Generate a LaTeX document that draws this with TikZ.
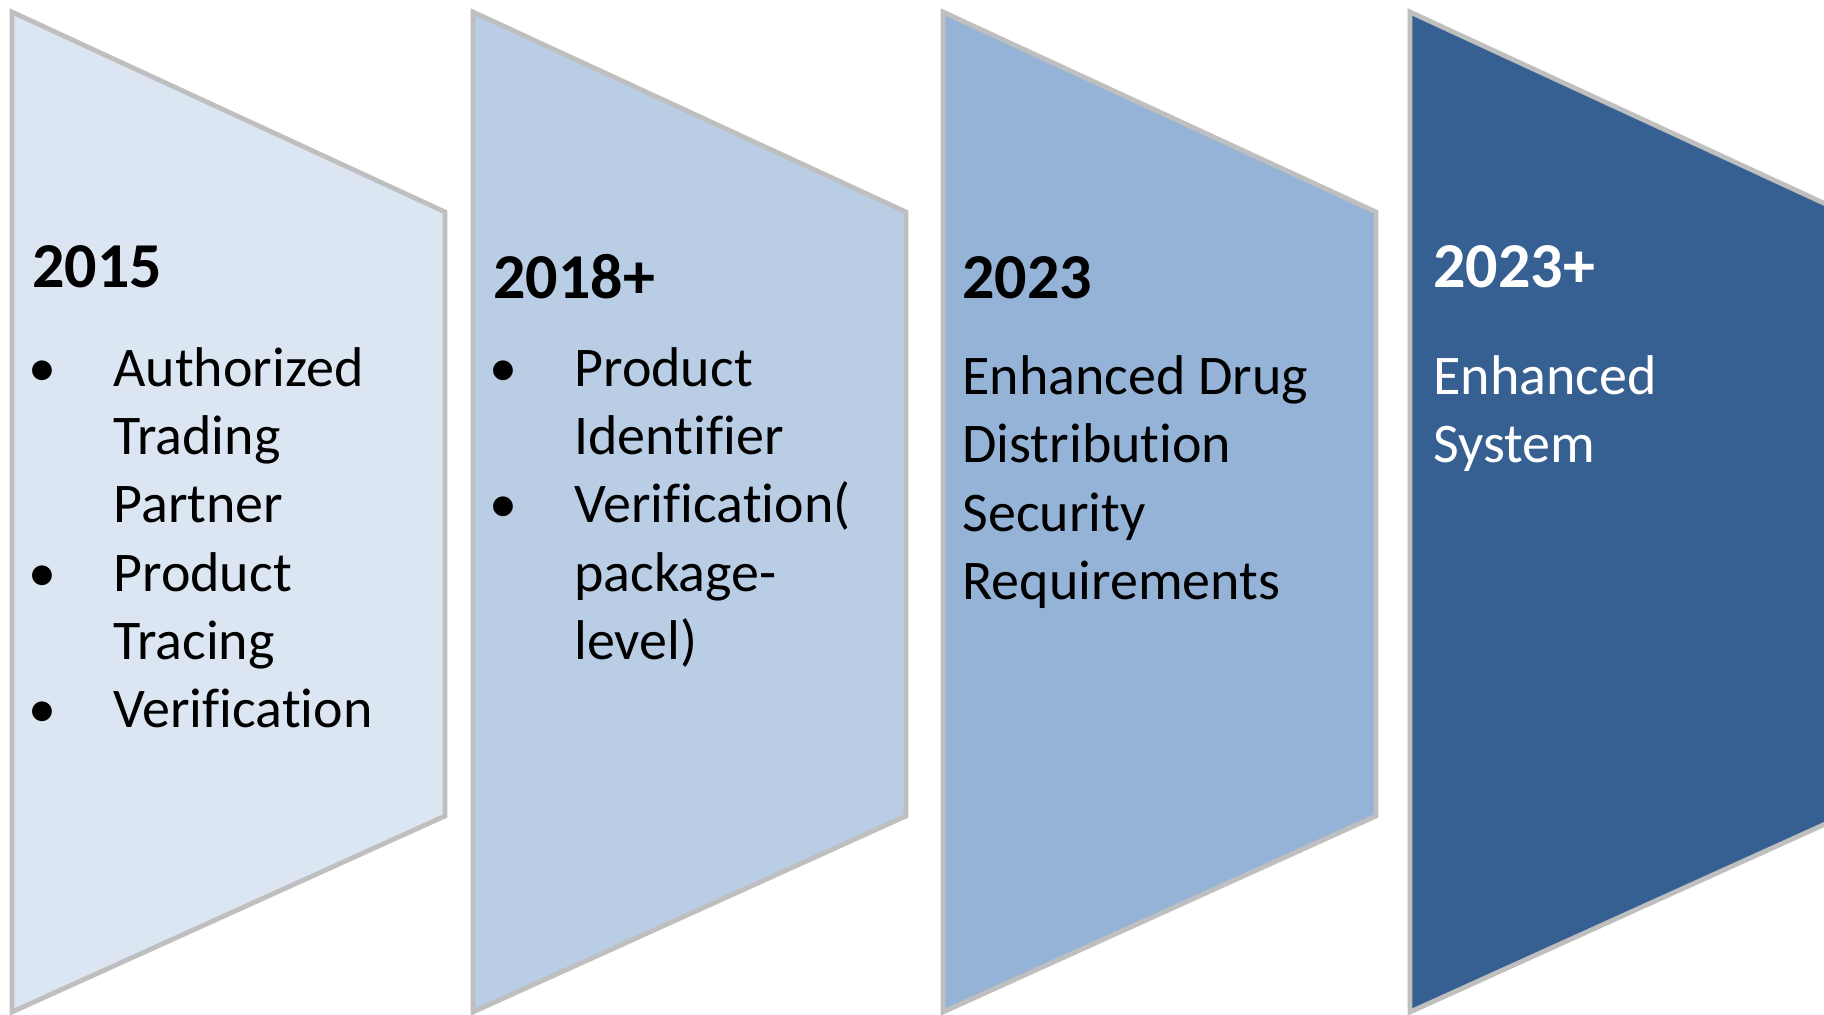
\documentclass[tikz,border=0pt]{standalone}
\usepackage{fontspec}
\setmainfont{Carlito}[Ligatures={NoCommon}]

\definecolor{stageA}{HTML}{DCE6F2}
\definecolor{stageB}{HTML}{B9CDE5}
\definecolor{stageC}{HTML}{95B3D7}
\definecolor{stageD}{HTML}{376092}
\definecolor{stageline}{HTML}{BFBFBF}

\begin{document}
\begin{tikzpicture}[
   x=0.5pt, y=-0.5pt,
   stage/.style={
     fill=#1,
     draw=stageline,
     line width=2.4pt,
    },
   year/.style={
     anchor=base west,
     inner sep=0pt,
     font=\fontsize{32}{38}\selectfont\bfseries,
    },
   txt/.style={
     anchor=base west,
     inner sep=0pt,
     font=\fontsize{28}{34}\selectfont,
    },
   dot/.style={
     anchor=base,
     inner sep=0pt,
     font=\fontsize{28}{34}\selectfont,
    },
  ]

\useasboundingbox (0,0) rectangle (1824,1015);
\clip (0,0) rectangle (1824,1015);

% 2015
\begin{scope}[shift={(12,0)}]
\draw[stage=stageA] (0,12) -- (433,212) -- (433,816) -- (0,1012) -- cycle;
\node[year] (y1) at (20,288) {2015};
\node[dot] (d11) at (30,387) {\textbullet};
\node[txt] (a1) at (101,387) {Authorized};
\node[txt] (a2) at (101,455) {Trading};
\node[txt] (a3) at (101,523) {Partner};
\node[dot] (d12) at (30,591) {\textbullet};
\node[txt] (a4) at (101,591) {Product};
\node[txt] (a5) at (101,659) {Tracing};
\node[dot] (d13) at (30,727) {\textbullet};
\node[txt] (a6) at (101,727) {Verification};
\end{scope}

% 2018+
\begin{scope}[shift={(473,0)}]
\draw[stage=stageB] (0,12) -- (433,212) -- (433,816) -- (0,1012) -- cycle;
\node[year] (y2) at (20,299) {2018+};
\node[dot] (d21) at (30,387) {\textbullet};
\node[txt] (b1) at (101,387) {Product};
\node[txt] (b2) at (101,455) {Identifier};
\node[dot] (d22) at (30,523) {\textbullet};
\node[txt] (b3) at (101,523) {Verification(};
\node[txt] (b4) at (101,591) {package-};
\node[txt] (b5) at (101,659) {level)};
\end{scope}

% 2023
\begin{scope}[shift={(943,0)}]
\draw[stage=stageC] (0,12) -- (433,212) -- (433,816) -- (0,1012) -- cycle;
\node[year] (y3) at (19,299) {2023};
\node[txt] (c1) at (19,395) {Enhanced Drug};
\node[txt] (c2) at (19,463) {Distribution};
\node[txt] (c3) at (19,531) {Security};
\node[txt] (c4) at (19,599) {Requirements};
\end{scope}

% 2023+
\begin{scope}[shift={(1410,0)}]
\draw[stage=stageD] (0,12) -- (433,212) -- (433,816) -- (0,1012) -- cycle;
\node[year,text=white] (y4) at (23,288) {2023+};
\node[txt,text=white] (e1) at (23,395) {Enhanced};
\node[txt,text=white] (e2) at (23,463) {System};
\end{scope}
\end{tikzpicture}
\end{document}
